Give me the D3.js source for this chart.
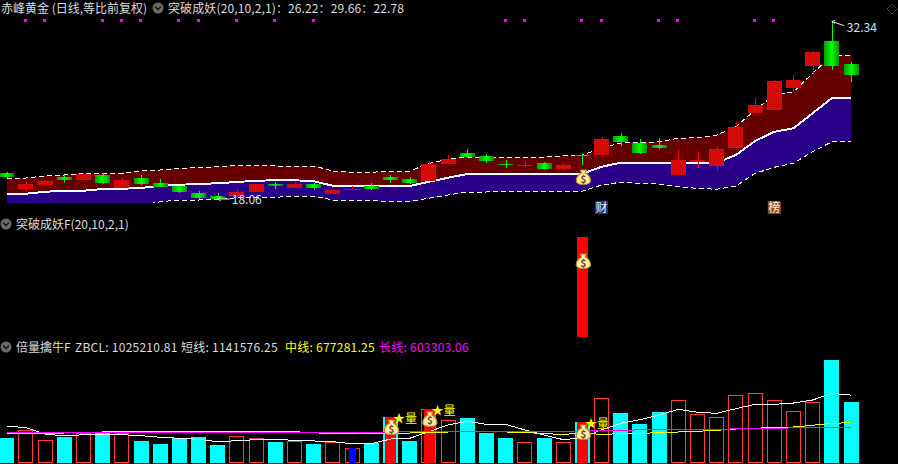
<!DOCTYPE html>
<html>
<head>
<meta charset="utf-8">
<script src="https://cdn.jsdelivr.net/npm/d3@7"></script>
<style>
  html, body { margin: 0; padding: 0; background: #000; overflow: hidden; }
  text { font-family: "Noto Sans CJK SC", "Noto Sans", sans-serif; font-size: 12px; }
</style>
</head>
<body>
<div id="chart"></div>
<script>
// price candles, one entry per trading day
const open_ = [20.22,18.92,19.26,19.90,19.66,20.06,19.02,19.82,19.42,19.18,18.62,18.38,18.38,18.70,19.34,19.04,19.34,18.56,18.88,19.18,19.90,19.74,19.58,20.94,21.82,21.58,20.94,20.80,21.02,20.54,21.66,21.66,23.18,22.62,22.46,20.06,21.10,20.78,22.22,25.02,25.26,27.02,28.78,30.78,28.94];
const close_ = [19.90,19.34,19.58,19.66,20.14,19.42,19.66,19.34,19.10,18.70,18.22,18.14,18.70,19.34,19.20,19.34,19.02,18.86,18.94,18.94,19.66,19.42,20.94,21.34,21.50,21.18,20.88,20.86,20.54,20.86,21.60,22.94,22.70,21.82,22.22,21.26,21.26,22.14,23.90,25.66,27.58,27.66,29.90,28.78,28.06];
const high_ = [20.30,19.56,19.66,20.06,20.24,20.20,19.82,20.06,19.74,19.18,18.78,18.62,18.94,19.34,19.50,19.50,19.42,18.94,19.18,19.42,20.06,19.90,21.18,21.66,22.14,21.74,21.26,21.18,21.10,21.02,21.82,23.10,23.42,22.94,23.02,22.06,21.90,22.38,24.30,26.22,27.66,28.06,29.98,32.34,29.10];
const low_ = [19.82,18.73,19.24,19.44,19.66,19.34,19.02,19.26,19.10,18.62,18.14,18.06,18.32,18.70,18.94,19.02,18.86,18.56,18.86,18.86,19.42,19.34,19.58,20.94,21.42,21.02,20.62,20.70,20.46,20.46,20.86,21.66,22.38,21.74,22.14,20.06,20.62,20.38,22.22,25.02,25.26,26.70,28.14,28.46,27.50];

// channel lines of the main indicator
const bandUpper = [19.74,19.82,19.98,20.06,20.16,20.16,20.20,20.38,20.46,20.60,20.64,20.72,20.84,20.84,20.78,20.78,20.78,20.38,20.28,20.28,20.36,20.36,20.99,21.32,21.50,21.50,21.50,21.50,21.50,21.58,21.64,22.22,22.62,22.64,22.72,23.00,23.04,23.26,23.92,25.26,26.46,26.72,28.20,29.60,29.66];
const bandMid = [18.54,18.56,18.72,18.80,18.80,18.94,18.96,19.02,19.20,19.28,19.34,19.40,19.50,19.60,19.64,19.64,19.56,19.20,19.20,19.18,19.18,19.18,19.52,19.84,20.14,20.16,20.16,20.16,20.16,20.16,20.16,20.72,21.04,21.04,21.04,21.04,21.04,21.04,21.66,22.78,23.52,23.80,25.00,26.22,26.22];
const bandLower = [17.34,17.31,17.47,17.55,17.44,17.72,17.73,17.66,17.92,18.06,18.06,18.12,18.24,18.24,18.28,18.36,18.36,18.06,18.00,18.00,17.96,17.96,18.20,18.46,18.70,18.70,18.73,18.73,18.73,18.73,18.76,19.26,19.48,19.40,19.34,19.12,18.99,18.92,19.18,20.19,20.68,21.00,21.92,22.72,22.78];

// volume and its averages
const volume = [420000,550000,381000,442000,499000,504000,504000,370000,319000,415000,437000,303000,449000,415000,353000,365000,319000,353000,252000,331000,773000,370000,908000,718000,756000,509000,420000,353000,420000,353000,689000,1087000,840000,655000,852000,1054000,818000,768000,1138000,1171000,1054000,869000,1020000,1731000,1025211];
const shortLine = [622000,593000,487000,454000,476000,487000,476000,459000,432000,415000,398000,358000,375000,392000,398000,381000,370000,358000,324000,324000,403000,415000,526000,639000,701000,650000,650000,555000,471000,392000,425000,560000,667000,728000,807000,902000,852000,835000,913000,986000,986000,1008000,1059000,1171000,1141576];
const midLine = [499000,499000,499000,504000,509000,521000,533000,533000,533000,533000,533000,533000,533000,533000,533000,526000,509000,492000,492000,492000,499000,504000,509000,521000,521000,521000,521000,516000,492000,482000,499000,482000,492000,499000,509000,521000,533000,550000,571000,583000,600000,605000,634000,667000,677281];
const longLine = [509000,509000,509000,509000,509000,509000,509000,509000,509000,509000,509000,509000,509000,509000,509000,509000,509000,509000,509000,509000,526000,526000,526000,526000,526000,526000,526000,526000,526000,526000,538000,543000,543000,560000,560000,560000,560000,560000,576000,576000,576000,593000,593000,600000,603303];

// signal days
const pinkDays = [1,2,5,6,7,9,10,12,14,16,26,27,30,31,34,35,39,40];
const starDays = [20,22,30];
const blueDays = [18];
const burstDays = [30];
const newsTags = [{day:31, label:"财", bg:"#12397a"}, {day:40, label:"榜", bg:"#9a4a12"}];

const stockTitle = "赤峰黄金 (日线,等比前复权)";
const legendMain = "突破成妖(20,10,2,1)：26.22：29.66：22.78";
const legendBurst = "突破成妖F(20,10,2,1)";
const volTitles = ["倍量擒牛F", "ZBCL: 1025210.81", "短线: 1141576.25", "中线: 677281.25", "长线: 603303.06"];

const width = 898, height = 464;
const textColor = "#dcdcdc";
const days = d3.range(open_.length);

const svg = d3.select("#chart").append("svg")
    .attr("width", width)
    .attr("height", height)
    .style("display", "block")
    .style("background", "#000");

const defs = svg.append("defs");

let greenGrad = defs.append("linearGradient").attr("id", "greenBody");
greenGrad.append("stop").attr("offset", "0%").attr("stop-color", "#00a000");
greenGrad.append("stop").attr("offset", "50%").attr("stop-color", "#00ff00");
greenGrad.append("stop").attr("offset", "100%").attr("stop-color", "#009000");

let redDots = defs.append("pattern").attr("id", "redBody")
    .attr("width", 2).attr("height", 2).attr("patternUnits", "userSpaceOnUse");
redDots.append("rect").attr("width", 2).attr("height", 2).attr("fill", "#f40000");
redDots.append("rect").attr("width", 1).attr("height", 1).attr("fill", "#c80000");

defs.append("clipPath").attr("id", "mainClip").append("rect")
    .attr("x", 0).attr("y", 0).attr("width", width).attr("height", 203);

// every panel shares this day scale
const xScale = d3.scaleBand()
    .domain(days)
    .range([-2.9, -2.9 + 19.19 * days.length])
    .paddingInner(0.22)
    .paddingOuter(0.11);
const xMid = i => xScale(i) + xScale.bandwidth() / 2;

const yPrice = d3.scaleLinear().domain([18.06, 32.34]).range([200, 21.5]);
const yVol = d3.scaleLinear().domain([0, 1731000]).range([463, 360]);

function panelIcon(cx, cy) {
  svg.append("circle").attr("cx", cx).attr("cy", cy).attr("r", 5.5).attr("fill", "#6e6a6a");
  svg.append("path")
      .attr("d", `M${cx-3},${cy-1.5} L${cx},${cy+1.5} L${cx+3},${cy-1.5}`)
      .attr("fill", "none").attr("stroke", "#141414").attr("stroke-width", 1.3);
}

function panelText(x, y, label, color, spacing) {
  svg.append("text").attr("x", x).attr("y", y)
      .attr("fill", color)
      .style("letter-spacing", (spacing || 0) + "px")
      .text(label);
}

function moneyBag(cx, cy) {
  let g = svg.append("g").attr("transform", `translate(${cx},${cy})`);
  g.append("path")
      .attr("d", "M-3,-7 L3,-7 L2,-4 C6,-2 7.5,2 7,4.5 C6.5,7 3,7.5 0,7.5 C-3,7.5 -6.5,7 -7,4.5 C-7.5,2 -6,-2 -2,-4 Z")
      .attr("fill", "#fff0a0").attr("stroke", "#b8862a").attr("stroke-width", 1.2);
  g.append("text").attr("y", 5.5).attr("text-anchor", "middle")
      .attr("fill", "#7a3a2a").style("font-size", "10px").style("font-weight", "bold").text("$");
}

// ---- main panel ----
let mainG = svg.append("g").attr("clip-path", "url(#mainClip)");

let upperArea = d3.area().x(xMid).y0(i => yPrice(bandMid[i])).y1(i => yPrice(bandUpper[i]));
let lowerArea = d3.area().x(xMid).y0(i => yPrice(bandLower[i])).y1(i => yPrice(bandMid[i]));
mainG.append("path").datum(days).attr("d", upperArea).attr("fill", "#660000");
mainG.append("path").datum(days).attr("d", lowerArea).attr("fill", "#2a0088");

function bandLine(values, dash, w) {
  mainG.append("path").datum(days)
      .attr("d", d3.line().x(xMid).y(i => yPrice(values[i])))
      .attr("fill", "none")
      .attr("stroke", "#fff")
      .attr("stroke-width", w)
      .attr("stroke-dasharray", dash)
      .style("shape-rendering", "crispEdges");
}
bandLine(bandUpper, "5,3", 1);
bandLine(bandLower, "5,3", 1);
bandLine(bandMid, null, 2);

let candles = mainG.selectAll(".candle").data(days).enter().append("g").attr("class", "candle");
candles.append("line")
    .attr("x1", i => Math.round(xMid(i)) + 0.5)
    .attr("x2", i => Math.round(xMid(i)) + 0.5)
    .attr("y1", i => yPrice(high_[i]))
    .attr("y2", i => yPrice(low_[i]))
    .attr("stroke", i => close_[i] >= open_[i] ? "#ff0000" : "#00ff00");
candles.append("rect")
    .attr("x", i => Math.round(xScale(i)))
    .attr("width", Math.round(xScale.bandwidth()))
    .attr("y", i => yPrice(Math.max(open_[i], close_[i])))
    .attr("height", i => Math.max(1, Math.abs(yPrice(open_[i]) - yPrice(close_[i]))))
    .attr("fill", i => close_[i] >= open_[i] ? "url(#redBody)" : "url(#greenBody)");

svg.selectAll(".pink").data(pinkDays).enter().append("rect")
    .attr("class", "pink")
    .attr("x", i => Math.round(xMid(i)) - 2)
    .attr("y", 19)
    .attr("width", 3)
    .attr("height", 3)
    .attr("fill", "#ff00ff");

// high and low labels
let hiDay = d3.maxIndex(high_), loDay = d3.minIndex(low_);
let hiX = xMid(hiDay), hiY = yPrice(high_[hiDay]);
let loX = xMid(loDay), loY = yPrice(low_[loDay]) - 1;
svg.append("path")
    .attr("d", `M${hiX},${hiY} l3,-1 M${hiX},${hiY} l3,2 M${hiX},${hiY} L${hiX+12},${hiY+4}`)
    .attr("fill", "none").attr("stroke", "#e6e6e6");
svg.append("text").attr("x", hiX + 15).attr("y", hiY + 10)
    .attr("fill", "#cfe3f5").text(high_[hiDay].toFixed(2));
svg.append("path")
    .attr("d", `M${loX},${loY} l3,-2 M${loX},${loY} l3,2 M${loX},${loY} h12`)
    .attr("fill", "none").attr("stroke", "#e6e6e6");
svg.append("text").attr("x", loX + 14).attr("y", loY + 4.5)
    .attr("fill", "#cfe3f5").text(low_[loDay].toFixed(2));

burstDays.forEach(i => moneyBag(xMid(i) + 1, 177));

newsTags.forEach(d => {
  svg.append("rect").attr("x", xMid(d.day) - 6.5).attr("y", 201).attr("width", 13).attr("height", 13).attr("fill", d.bg);
  svg.append("text").attr("x", xMid(d.day)).attr("y", 212).attr("text-anchor", "middle").attr("fill", "#f2f2f2").text(d.label);
});

panelText(1, 12.5, stockTitle, textColor);
panelIcon(158, 8);
panelText(168, 12.5, legendMain, textColor, 0.12);

svg.append("path").attr("d", "M887,9 L892,4 L897,9 L892,14 Z")
    .attr("fill", "none").attr("stroke", "#777").attr("stroke-dasharray", "1,1");

// ---- burst panel ----
panelIcon(6, 224);
panelText(16, 228.5, legendBurst, textColor);
let yBurst = d3.scaleLinear().domain([0, 1]).range([337, 237]);
svg.selectAll(".burst").data(burstDays).enter().append("rect")
    .attr("class", "burst")
    .attr("x", i => Math.round(xMid(i)) - 5)
    .attr("width", 11)
    .attr("y", yBurst(1))
    .attr("height", yBurst(0) - yBurst(1))
    .attr("fill", "#ff0000");
burstDays.forEach(i => moneyBag(xMid(i) + 1, 261));

// ---- volume panel ----
panelIcon(6, 347);
panelText(16, 351.5, volTitles[0], textColor);
panelText(75, 351.5, volTitles[1], textColor, 0.25);
panelText(181, 351.5, volTitles[2], textColor, 0.25);
panelText(285, 351.5, volTitles[3], "#ffff00", 0.25);
panelText(379, 351.5, volTitles[4], "#ff00ff", 0.25);

let isUp = i => close_[i] >= open_[i];
svg.selectAll(".vol").data(days).enter().append("rect")
    .attr("class", "vol")
    .attr("x", i => Math.round(xScale(i)) + (isUp(i) ? 0.5 : 0))
    .attr("width", i => Math.round(xScale.bandwidth()) - (isUp(i) ? 1 : 0))
    .attr("y", i => Math.round(yVol(volume[i])) + (isUp(i) ? 0.5 : 0))
    .attr("height", i => yVol(0) - Math.round(yVol(volume[i])) - (isUp(i) ? 1 : 0))
    .attr("fill", i => isUp(i) ? "none" : "#00ffff")
    .attr("stroke", i => isUp(i) ? "#ff3c3c" : "none");

// solid red on the double-volume days, blue on the shrink day
svg.selectAll(".starBar").data(starDays).enter().append("rect")
    .attr("class", "starBar")
    .attr("x", i => Math.round(xMid(i)) - 5)
    .attr("width", 11)
    .attr("y", i => yVol(volume[i]))
    .attr("height", i => yVol(0) - yVol(volume[i]))
    .attr("fill", "#ff0000");
svg.selectAll(".blueBar").data(blueDays).enter().append("rect")
    .attr("class", "blueBar")
    .attr("x", i => Math.round(xMid(i)) - 3)
    .attr("width", 7)
    .attr("y", i => yVol(volume[i]))
    .attr("height", i => yVol(0) - yVol(volume[i]))
    .attr("fill", "#0000ff");

function volLine(values, color) {
  svg.append("path").datum(days)
      .attr("d", d3.line().x(xMid).y(i => yVol(values[i])))
      .attr("fill", "none")
      .attr("stroke", color)
      .attr("stroke-width", 1)
      .style("shape-rendering", "crispEdges");
}
volLine(shortLine, "#ffffff");
volLine(midLine, "#ffff00");
volLine(longLine, "#ff00ff");

starDays.forEach(i => {
  let top = yVol(volume[i]);
  moneyBag(xMid(i) + 1, top + 10);
  svg.append("text").attr("x", xMid(i) + 2.5).attr("y", top + 6)
      .attr("fill", "#ffff00").text("★量");
});
</script>
</body>
</html>
